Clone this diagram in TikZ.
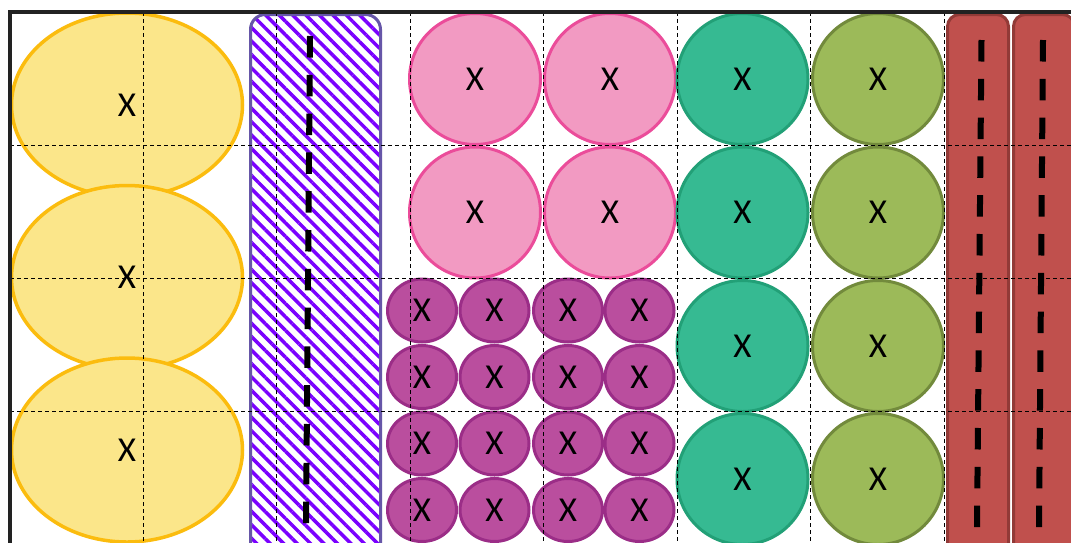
\documentclass[tikz,border=0pt]{standalone}
\usepackage{fontspec}
\setmainfont{Carlito}
\usetikzlibrary{shapes.geometric,patterns.meta}
\definecolor{sandfill}{HTML}{FBE68A}
\definecolor{sandline}{HTML}{FBBC0E}
\definecolor{bandline}{HTML}{6656A8}
\definecolor{bandhatch}{HTML}{7A00FF}
\definecolor{pinkfill}{HTML}{F29AC2}
\definecolor{pinkline}{HTML}{EB4C9A}
\definecolor{plumfill}{HTML}{BA4E9E}
\definecolor{plumline}{HTML}{9B2D87}
\definecolor{tealfill}{HTML}{36BA92}
\definecolor{tealline}{HTML}{22A077}
\definecolor{olivefill}{HTML}{9CBA59}
\definecolor{oliveline}{HTML}{728A3C}
\definecolor{brickfill}{HTML}{C0504D}
\definecolor{brickline}{HTML}{923A37}
\definecolor{framecol}{HTML}{222222}

\begin{document}
\begin{tikzpicture}[x=1pt, y=-1pt,
  cell/.style={draw, line width=3pt, inner sep=0pt, font=\fontsize{35}{37}\selectfont},
  sand/.style={cell, ellipse, fill=sandfill, draw=sandline, line width=3.5pt, minimum width=231pt, minimum height=184pt},
  band/.style={cell, rectangle, rounded corners=15pt, draw=bandline, minimum width=130pt, minimum height=545pt,
               pattern={Lines[angle=-45, distance=9.5pt, line width=3.5pt]}, pattern color=bandhatch},
  pinkdot/.style={cell, circle, fill=pinkfill, draw=pinkline, minimum size=131pt},
  plumdot/.style={cell, ellipse, fill=plumfill, draw=plumline, minimum width=69pt, minimum height=63pt},
  tealdot/.style={cell, circle, fill=tealfill, draw=tealline, minimum size=131pt},
  olivedot/.style={cell, circle, fill=olivefill, draw=oliveline, minimum size=131pt},
  brick/.style={cell, rectangle, rounded corners=12pt, fill=brickfill, draw=brickline, minimum width=61pt, minimum height=560pt},
  lane/.style={line width=6pt, black, dash pattern=on 21.5pt off 17.3pt},
  gridline/.style={black, line width=1pt, dash pattern=on 4pt off 3pt}
]
  \path[fill=white, use as bounding box] (0,0) rectangle (1071,542);

  \node[sand] (sand1) at (127,105) {X};
  \node[sand] (sand2) at (127,277.5) {X};
  \node[sand] (sand3) at (127,450) {X};

  \node[band] (band) at (315.5,287) {};

  \node[pinkdot] (pink11) at (475,79) {X};
  \node[pinkdot] (pink12) at (610,79) {X};
  \node[pinkdot] (pink21) at (475,212.5) {X};
  \node[pinkdot] (pink22) at (610,212.5) {X};

  \node[plumdot] (plum11) at (422,310.5) {X};
  \node[plumdot] (plum12) at (494.5,310.5) {X};
  \node[plumdot] (plum13) at (568,310.5) {X};
  \node[plumdot] (plum14) at (639.5,310.5) {X};
  \node[plumdot] (plum21) at (422,377) {X};
  \node[plumdot] (plum22) at (494.5,377) {X};
  \node[plumdot] (plum23) at (568,377) {X};
  \node[plumdot] (plum24) at (639.5,377) {X};
  \node[plumdot] (plum31) at (422,443.5) {X};
  \node[plumdot] (plum32) at (494.5,443.5) {X};
  \node[plumdot] (plum33) at (568,443.5) {X};
  \node[plumdot] (plum34) at (639.5,443.5) {X};
  \node[plumdot] (plum41) at (422,510) {X};
  \node[plumdot] (plum42) at (494.5,510) {X};
  \node[plumdot] (plum43) at (568,510) {X};
  \node[plumdot] (plum44) at (639.5,510) {X};

  \node[tealdot] (teal1) at (742.5,79) {X};
  \node[tealdot] (teal2) at (742.5,212.5) {X};
  \node[tealdot] (teal3) at (742.5,346) {X};
  \node[tealdot] (teal4) at (742.5,479) {X};

  \node[olivedot] (olive1) at (878,79) {X};
  \node[olivedot] (olive2) at (878,212.5) {X};
  \node[olivedot] (olive3) at (878,346) {X};
  \node[olivedot] (olive4) at (878,479) {X};

  \node[brick] (brick1) at (978,294.5) {};
  \node[brick] (brick2) at (1044,294.5) {};

  \coordinate (bandtop) at (310,36);
  \coordinate (bandfoot) at (306,525);
  \coordinate (brick1top) at (981.5,40);
  \coordinate (brick1foot) at (977,529);
  \coordinate (brick2top) at (1043,40);
  \coordinate (brick2foot) at (1039,529);
  \draw[lane] (bandtop) -- (bandfoot);
  \draw[lane] (brick1top) -- (brick1foot);
  \draw[lane] (brick2top) -- (brick2foot);

  \draw[gridline] (143.3,12) -- (143.3,560);
  \draw[gridline] (276.8,12) -- (276.8,560);
  \draw[gridline] (410.2,12) -- (410.2,560);
  \draw[gridline] (543.7,12) -- (543.7,560);
  \draw[gridline] (677.1,12) -- (677.1,560);
  \draw[gridline] (810.6,12) -- (810.6,560);
  \draw[gridline] (944,12) -- (944,560);
  \draw[gridline] (10.3,145) -- (1080,145);
  \draw[gridline] (10.3,278.4) -- (1080,278.4);
  \draw[gridline] (10.3,411.9) -- (1080,411.9);

  \draw[framecol, line width=4pt] (10.3,560) -- (10.3,12) -- (1080,12);
\end{tikzpicture}
\end{document}
